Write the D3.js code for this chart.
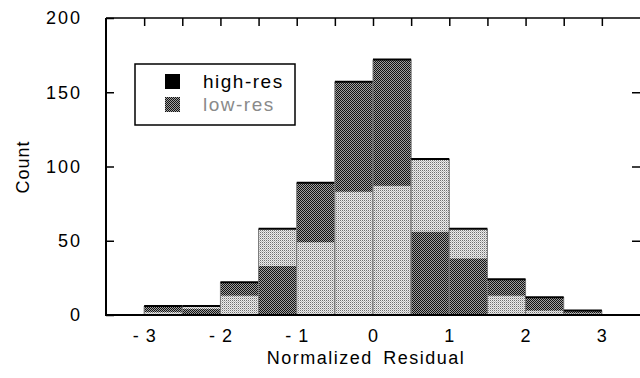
<!DOCTYPE html>
<html>
<head>
<meta charset="utf-8">
<script src="https://cdn.jsdelivr.net/npm/d3@7"></script>
<style>
body { margin: 0; background: #fff; }
text { font-family: "Liberation Sans", Arial, sans-serif; }
</style>
</head>
<body>
<svg id="chart" width="640" height="378"></svg>
<script>
// data
const binStarts = [-3, -2.5, -2, -1.5, -1, -0.5, 0, 0.5, 1, 1.5, 2, 2.5];
const binWidth = 0.5;
const highRes = [6, 4, 22, 33, 89, 157, 172, 56, 38, 24, 12, 3];
const lowRes = [2, 6, 13, 58, 49, 83, 87, 105, 58, 13, 3, 1];
const yTicks = [0, 50, 100, 150, 200];
const xTicks = [-3, -2, -1, 0, 1, 2, 3];
const seriesNames = ["high-res", "low-res"];

const svg = d3.select("#chart");
const plotLeft = 106, plotRight = 640, plotTop = 18, plotBottom = 315;

const x = d3.scaleLinear().domain([-3.5, 3.5]).range([plotLeft, plotRight]);
const y = d3.scaleLinear().domain([0, 200]).range([plotBottom, plotTop]);

// patterns
const defs = svg.append("defs");
const dark = defs.append("pattern").attr("id", "dark")
    .attr("width", 2).attr("height", 2).attr("patternUnits", "userSpaceOnUse");
dark.append("rect").attr("width", 2).attr("height", 2).attr("fill", "#a0a0a0");
dark.append("rect").attr("width", 1).attr("height", 1).attr("fill", "#111");
dark.append("rect").attr("x", 1).attr("y", 1).attr("width", 1).attr("height", 1).attr("fill", "#111");

const light = defs.append("pattern").attr("id", "light")
    .attr("width", 2).attr("height", 2).attr("patternUnits", "userSpaceOnUse");
light.append("rect").attr("width", 2).attr("height", 2).attr("fill", "#eeeeee");
light.append("rect").attr("width", 1).attr("height", 1).attr("fill", "#707070");
light.append("rect").attr("x", 1).attr("y", 1).attr("width", 1).attr("height", 1).attr("fill", "#b8b8b8");

// bars: taller one behind, shorter in front
const bins = binStarts.map((b, i) => {
    const pair = [
        { v: highRes[i], fill: "url(#dark)" },
        { v: lowRes[i], fill: "url(#light)" }
    ].sort((a, c) => c.v - a.v);
    return { x0: b, x1: b + binWidth, back: pair[0], front: pair[1] };
});

const barG = svg.append("g");
bins.forEach(d => {
    const bx = x(d.x0), bw = x(d.x1) - x(d.x0);
    barG.append("rect")
        .attr("x", bx).attr("y", y(d.back.v))
        .attr("width", bw).attr("height", y(0) - y(d.back.v))
        .attr("fill", d.back.fill);
    barG.append("rect")
        .attr("x", bx).attr("y", y(d.front.v))
        .attr("width", bw).attr("height", y(0) - y(d.front.v))
        .attr("fill", d.front.fill);
    // bin edges
    barG.append("line")
        .attr("x1", bx).attr("x2", bx)
        .attr("y1", y(d.back.v)).attr("y2", y(0))
        .attr("stroke", "#777").attr("stroke-width", 1);
    barG.append("line")
        .attr("x1", bx + bw).attr("x2", bx + bw)
        .attr("y1", y(d.back.v)).attr("y2", y(0))
        .attr("stroke", "#777").attr("stroke-width", 1);
    // top outline
    barG.append("line")
        .attr("x1", bx).attr("x2", bx + bw)
        .attr("y1", y(d.back.v)).attr("y2", y(d.back.v))
        .attr("stroke", "#000").attr("stroke-width", 2);
});

// frame (right edge falls just outside the picture)
svg.append("line").attr("x1", plotLeft).attr("x2", plotRight).attr("y1", plotTop).attr("y2", plotTop)
    .attr("stroke", "#000").attr("stroke-width", 1.5);
svg.append("line").attr("x1", plotLeft).attr("x2", plotRight).attr("y1", plotBottom).attr("y2", plotBottom)
    .attr("stroke", "#000").attr("stroke-width", 2);
svg.append("line").attr("x1", plotLeft).attr("x2", plotLeft).attr("y1", plotTop).attr("y2", plotBottom + 1)
    .attr("stroke", "#000").attr("stroke-width", 2);

// top ticks
const topAxis = svg.append("g")
    .attr("transform", `translate(0,${plotTop})`)
    .call(d3.axisTop(x).tickValues(d3.range(-3, 3.01, 0.5)).tickSizeInner(-8).tickSizeOuter(0).tickFormat(""));
topAxis.select(".domain").remove();
topAxis.selectAll("line").attr("stroke-width", 1.5);

// left axis
const leftAxis = svg.append("g")
    .attr("transform", `translate(${plotLeft},0)`)
    .call(d3.axisLeft(y).tickValues(yTicks).tickSizeInner(-8).tickSizeOuter(0).tickPadding(24));
leftAxis.select(".domain").remove();
leftAxis.selectAll("line").attr("stroke-width", 1.5);
leftAxis.selectAll("text").attr("font-size", 18).attr("letter-spacing", 2).attr("fill", "#000")
    .attr("font-family", "\"Liberation Sans\", Arial, sans-serif");

// right ticks
const rightAxis = svg.append("g")
    .attr("transform", `translate(${plotRight},0)`)
    .call(d3.axisLeft(y).tickValues([50, 100, 150]).tickSizeInner(8).tickSizeOuter(0).tickFormat(""));
rightAxis.select(".domain").remove();
rightAxis.selectAll("line").attr("stroke-width", 1.5);

// bottom labels
const bottomAxis = svg.append("g")
    .attr("transform", `translate(0,${plotBottom})`)
    .call(d3.axisBottom(x).tickValues(xTicks).tickSize(0).tickPadding(14)
        .tickFormat(d => d < 0 ? "- " + (-d) : String(d)));
bottomAxis.select(".domain").remove();
bottomAxis.selectAll("text").attr("font-size", 18).attr("letter-spacing", 1).attr("fill", "#000")
    .attr("font-family", "\"Liberation Sans\", Arial, sans-serif");

// axis titles
svg.append("text")
    .attr("x", 366).attr("y", 364)
    .attr("text-anchor", "middle")
    .attr("font-size", 18).attr("letter-spacing", 1.5).attr("word-spacing", 4)
    .attr("fill", "#000")
    .text("Normalized Residual");

svg.append("text")
    .attr("transform", "translate(29,167) rotate(-90)")
    .attr("text-anchor", "middle")
    .attr("font-size", 18).attr("letter-spacing", 1)
    .attr("fill", "#000")
    .text("Count");

// legend
const legend = svg.append("g");
legend.append("rect")
    .attr("x", 135).attr("y", 64).attr("width", 160).attr("height", 61)
    .attr("fill", "#fff").attr("stroke", "#000").attr("stroke-width", 1.5);
const swatchFills = ["#000", "url(#dark)"];
const textColors = ["#000", "#8a8a8a"];
seriesNames.forEach((name, i) => {
    legend.append("rect")
        .attr("x", 165).attr("y", 74 + i * 23).attr("width", 15).attr("height", 15)
        .attr("fill", swatchFills[i]);
    legend.append("text")
        .attr("x", 203).attr("y", 88 + i * 23)
        .attr("font-size", 19).attr("letter-spacing", 1.5)
        .attr("fill", textColors[i])
        .text(name);
});
</script>
</body>
</html>
